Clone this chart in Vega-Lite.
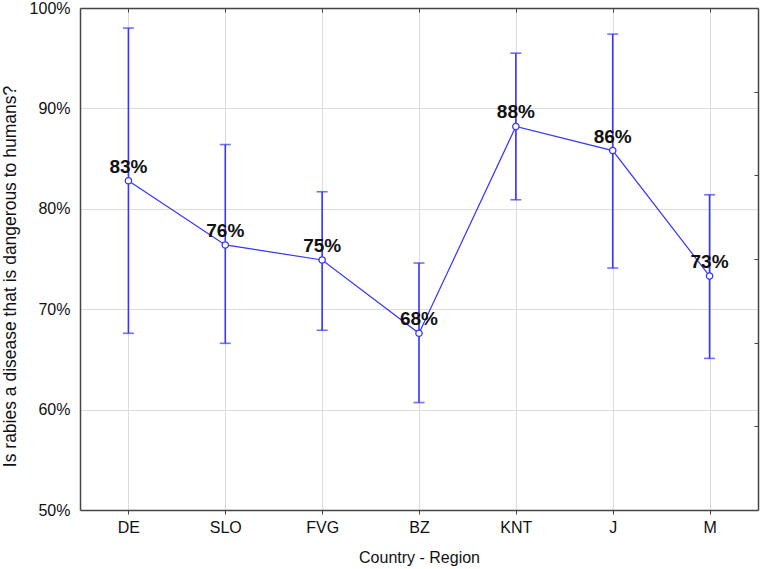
{
  "$schema": "https://vega.github.io/schema/vega-lite/v6.json",
  "width": 678,
  "height": 502,
  "autosize": "none",
  "padding": {"left": 80, "top": 8, "right": 7, "bottom": 59},
  "background": "white",
  "config": {
    "view": {"stroke": null},
    "font": "Liberation Sans",
    "axis": {
      "labelFont": "Liberation Sans",
      "titleFont": "Liberation Sans",
      "labelColor": "#111",
      "titleColor": "#111",
      "domainColor": "#444",
      "tickColor": "#444",
      "gridColor": "#dcdcdc",
      "gridWidth": 1
    }
  },
  "data": {
    "values": [
      {"region": "DE", "val": 0.828, "lo": 0.676, "hi": 0.980},
      {"region": "SLO", "val": 0.764, "lo": 0.666, "hi": 0.864},
      {"region": "FVG", "val": 0.749, "lo": 0.679, "hi": 0.817},
      {"region": "BZ", "val": 0.676, "lo": 0.607, "hi": 0.746},
      {"region": "KNT", "val": 0.882, "lo": 0.809, "hi": 0.955},
      {"region": "J", "val": 0.858, "lo": 0.741, "hi": 0.974},
      {"region": "M", "val": 0.733, "lo": 0.651, "hi": 0.814}
    ]
  },
  "resolve": {"axis": {"x": "independent", "y": "independent"}},
  "layer": [
    {
      "mark": {"type": "rule", "color": "#3535ff", "strokeWidth": 1.6},
      "encoding": {
        "x": {
          "field": "region", "type": "nominal", "sort": null,
          "scale": {"type": "point", "padding": 0.5},
          "axis": {
            "title": "Country - Region", "titleFontSize": 16, "titleFontWeight": "normal",
            "titleY": 47, "titleBaseline": "middle",
            "labelFontSize": 16, "labelAngle": 0, "tickSize": 4, "labelPadding": 5,
            "grid": true, "domainWidth": 1.5
          }
        },
        "y": {
          "field": "lo", "type": "quantitative",
          "scale": {"domain": [0.5, 1.0], "nice": false, "zero": false},
          "axis": {
            "title": "Is rabies a disease that is dangerous to humans?",
            "titleFontSize": 17.5, "titleFontWeight": "normal",
            "titleX": -70, "titleY": 268, "titleBaseline": "middle",
            "values": [0.5, 0.6, 0.7, 0.8, 0.9, 1.0], "format": ".0%",
            "labelFontSize": 16, "ticks": false, "labelPadding": 10,
            "grid": true, "domainWidth": 1.5
          }
        },
        "y2": {"field": "hi"}
      }
    },
    {
      "mark": {"type": "tick", "color": "#3535ff", "orient": "horizontal", "size": 11, "thickness": 1.6},
      "encoding": {
        "x": {"field": "region", "type": "nominal", "sort": null, "axis": null},
        "y": {"field": "lo", "type": "quantitative", "axis": null}
      }
    },
    {
      "mark": {"type": "tick", "color": "#3535ff", "orient": "horizontal", "size": 11, "thickness": 1.6},
      "encoding": {
        "x": {"field": "region", "type": "nominal", "sort": null, "axis": null},
        "y": {"field": "hi", "type": "quantitative", "axis": null}
      }
    },
    {
      "mark": {"type": "line", "color": "#3535ff", "strokeWidth": 1.2},
      "encoding": {
        "x": {
          "field": "region", "type": "nominal", "sort": null,
          "axis": {"orient": "top", "title": null, "labels": false, "tickSize": -4, "grid": false, "domainWidth": 1.5}
        },
        "y": {
          "field": "val", "type": "quantitative",
          "axis": {
            "orient": "right", "title": null, "labels": false, "grid": false,
            "values": [0.58333, 0.66667, 0.75, 0.83333, 0.91667], "tickSize": -4, "domainWidth": 1.5
          }
        }
      }
    },
    {
      "mark": {"type": "point", "filled": true, "fill": "white", "stroke": "#3535ff", "strokeWidth": 1.3, "size": 40, "opacity": 1},
      "encoding": {
        "x": {"field": "region", "type": "nominal", "sort": null, "axis": null},
        "y": {"field": "val", "type": "quantitative", "axis": null}
      }
    },
    {
      "mark": {"type": "text", "fontSize": 19, "fontWeight": "bold", "color": "#111", "dy": -8, "baseline": "alphabetic"},
      "encoding": {
        "x": {"field": "region", "type": "nominal", "sort": null, "axis": null},
        "y": {"field": "val", "type": "quantitative", "axis": null},
        "text": {"field": "val", "type": "quantitative", "format": ".0%"}
      }
    }
  ]
}
